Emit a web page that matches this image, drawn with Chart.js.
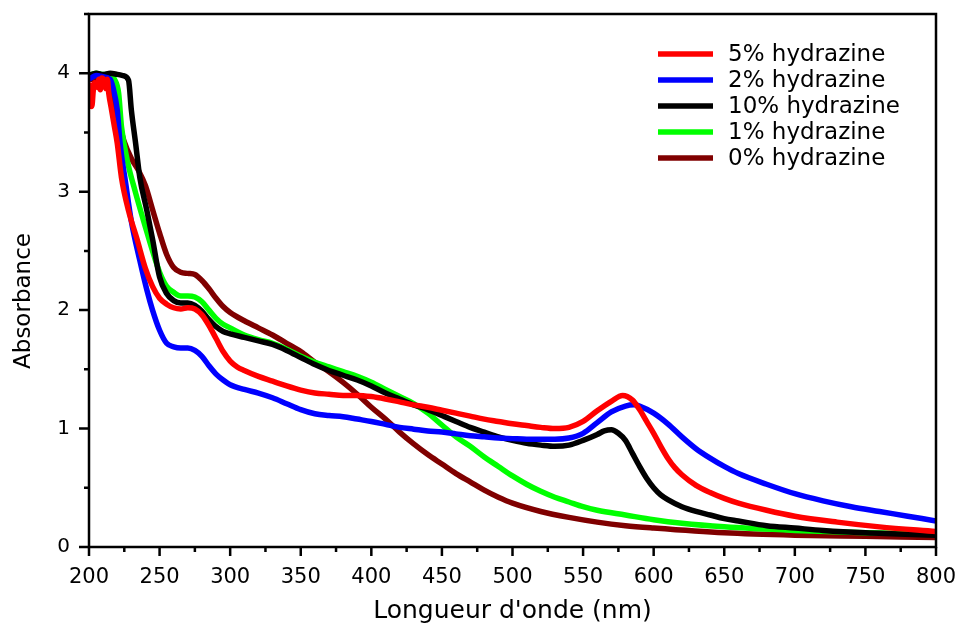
<!DOCTYPE html>
<html>
<head>
<meta charset="utf-8">
<script src="https://cdn.jsdelivr.net/npm/chart.js@4/dist/chart.umd.min.js"></script>
<style>
  html, body { margin: 0; padding: 0; background: #fff; }
  #chart { display: block; }
</style>
</head>
<body>
<canvas id="chart" width="957" height="628"></canvas>
<script>
// Axis ticks
const xTicks = [200, 250, 300, 350, 400, 450, 500, 550, 600, 650, 700, 750, 800];
const yTicks = [0, 1, 2, 3, 4];

// Legend labels
const labels = ['5% hydrazine', '2% hydrazine', '10% hydrazine', '1% hydrazine', '0% hydrazine'];

// 5% hydrazine (red)
const wl5 = [200, 201, 202, 203, 204, 206, 207, 208, 209, 211, 212, 213, 214, 216, 218, 220, 223, 228, 234, 240, 245, 250, 255, 260, 265, 270, 275, 280, 285, 290, 295, 300, 305, 310, 320, 330, 340, 350, 360, 370, 380, 390, 400, 410, 420, 430, 440, 450, 460, 470, 480, 490, 500, 510, 520, 530, 540, 550, 560, 570, 578, 585, 590, 595, 600, 605, 610, 615, 620, 630, 640, 650, 660, 680, 700, 730, 760, 800];
const abs5 = [3.75, 3.9, 3.72, 3.85, 3.92, 3.88, 3.95, 3.86, 3.96, 3.93, 3.87, 3.95, 3.83, 3.69, 3.55, 3.41, 3.12, 2.84, 2.6, 2.35, 2.2, 2.1, 2.05, 2.02, 2.01, 2.02, 2.01, 1.96, 1.87, 1.76, 1.65, 1.57, 1.52, 1.49, 1.44, 1.4, 1.36, 1.325, 1.3, 1.29, 1.28, 1.28, 1.27, 1.25, 1.225, 1.2, 1.18, 1.155, 1.13, 1.105, 1.08, 1.06, 1.04, 1.025, 1.01, 1.0, 1.01, 1.06, 1.15, 1.23, 1.28, 1.24, 1.16, 1.06, 0.96, 0.85, 0.75, 0.67, 0.61, 0.52, 0.46, 0.41, 0.37, 0.31, 0.26, 0.21, 0.17, 0.13];

// 2% hydrazine (blue)
const wl2 = [200, 205, 210, 215, 217, 220, 222, 226, 230, 236, 241, 245, 250, 255, 260, 265, 270, 275, 280, 285, 290, 295, 300, 310, 320, 330, 340, 350, 360, 370, 380, 390, 400, 410, 420, 430, 440, 450, 460, 470, 480, 490, 500, 510, 520, 530, 540, 550, 560, 570, 580, 586, 590, 600, 610, 620, 630, 640, 650, 660, 680, 700, 720, 740, 760, 780, 800];
const abs2 = [3.95, 3.98, 3.97, 3.95, 3.88, 3.69, 3.41, 3.07, 2.75, 2.42, 2.17, 2.0, 1.83, 1.72, 1.69, 1.68, 1.68, 1.66, 1.61, 1.53, 1.46, 1.41, 1.37, 1.33, 1.3, 1.26, 1.21, 1.16, 1.125, 1.11, 1.1, 1.08, 1.06, 1.035, 1.01, 0.995, 0.98, 0.97, 0.955, 0.94, 0.93, 0.92, 0.915, 0.91, 0.91, 0.91, 0.92, 0.96, 1.05, 1.14, 1.19, 1.2, 1.19, 1.13, 1.04, 0.93, 0.83, 0.75, 0.68, 0.62, 0.53, 0.45, 0.39, 0.34, 0.3, 0.26, 0.22];

// 10% hydrazine (black)
const wl10 = [200, 205, 210, 215, 220, 224, 228, 230, 233, 236, 241, 245, 250, 255, 260, 265, 270, 275, 280, 285, 290, 295, 300, 310, 320, 330, 340, 350, 360, 370, 380, 390, 400, 410, 420, 430, 440, 450, 460, 470, 480, 490, 500, 510, 520, 530, 540, 550, 560, 565, 570, 575, 580, 585, 590, 595, 600, 605, 610, 620, 630, 640, 650, 660, 680, 700, 720, 750, 800];
const abs10 = [3.98, 4.0, 3.99, 4.0, 3.99, 3.98, 3.94, 3.69, 3.41, 3.12, 2.84, 2.6, 2.28, 2.14, 2.08, 2.06, 2.06, 2.04, 1.99, 1.92, 1.86, 1.82, 1.8, 1.77, 1.74, 1.71, 1.66, 1.6, 1.54, 1.49, 1.45, 1.41, 1.36, 1.3, 1.25, 1.2, 1.16, 1.11, 1.06, 1.01, 0.97, 0.93, 0.9, 0.875, 0.86, 0.85, 0.86, 0.9, 0.95, 0.98, 0.99, 0.96, 0.9, 0.79, 0.68, 0.58, 0.5, 0.44, 0.4, 0.34, 0.3, 0.27, 0.24, 0.22, 0.18, 0.16, 0.14, 0.12, 0.1];

// 1% hydrazine (green)
const wl1 = [200, 205, 210, 215, 218, 221, 223, 227, 233, 240, 245, 250, 255, 260, 265, 270, 275, 280, 285, 290, 295, 300, 310, 320, 330, 340, 350, 360, 370, 380, 390, 400, 410, 420, 430, 440, 450, 460, 470, 480, 490, 500, 510, 520, 530, 540, 550, 560, 580, 600, 620, 650, 700, 750, 800];
const abs1 = [3.98, 4.0, 3.99, 3.99, 3.95, 3.83, 3.55, 3.27, 2.99, 2.7, 2.5, 2.32, 2.2, 2.15, 2.12, 2.12, 2.11, 2.07, 2.0, 1.93, 1.88, 1.85, 1.79, 1.75, 1.72, 1.67, 1.61, 1.56, 1.52, 1.48, 1.44, 1.39, 1.33, 1.27, 1.21, 1.13, 1.03, 0.93, 0.85, 0.76, 0.68, 0.6, 0.53, 0.47, 0.42, 0.38, 0.34, 0.31, 0.27, 0.23, 0.2, 0.17, 0.14, 0.12, 0.11];

// 0% hydrazine (maroon)
const wl0 = [200, 210, 215, 220, 225, 230, 235, 240, 245, 250, 255, 260, 265, 270, 275, 280, 285, 290, 295, 300, 310, 320, 330, 340, 350, 360, 370, 380, 390, 400, 410, 420, 430, 440, 450, 460, 470, 480, 490, 500, 520, 540, 560, 580, 600, 650, 700, 750, 800];
const abs0 = [3.95, 3.95, 3.85, 3.65, 3.42, 3.28, 3.18, 3.05, 2.85, 2.65, 2.47, 2.36, 2.32, 2.31, 2.3, 2.25, 2.18, 2.1, 2.03, 1.98, 1.91, 1.85, 1.79, 1.72, 1.65, 1.56, 1.48, 1.39, 1.29, 1.18, 1.08, 0.97, 0.87, 0.78, 0.7, 0.62, 0.55, 0.48, 0.42, 0.37, 0.3, 0.25, 0.21, 0.18, 0.16, 0.12, 0.1, 0.09, 0.08];

const colors = ['#ff0000', '#0000ff', '#000000', '#00ff00', '#800000'];
const series = [[wl5, abs5], [wl2, abs2], [wl10, abs10], [wl1, abs1], [wl0, abs0]];

const FONT = "'DejaVu Sans', 'Liberation Sans', Arial, sans-serif";

function toPoints(xs, ys) {
  return xs.map((x, i) => ({ x: x, y: ys[i] }));
}

const datasets = series.map((s, i) => ({
  label: labels[i],
  data: toPoints(s[0], s[1]),
  borderColor: colors[i],
  backgroundColor: colors[i],
  borderWidth: 5.5,
  pointRadius: 0,
  cubicInterpolationMode: 'monotone',
  fill: false
}));

// box, ticks, axis titles and legend
const decorations = {
  id: 'decorations',
  afterDraw(chart) {
    const ctx = chart.ctx;
    const area = chart.chartArea;
    const xs = chart.scales.x;
    const ys = chart.scales.y;
    ctx.save();
    ctx.strokeStyle = '#000';
    ctx.lineWidth = 2.5;
    ctx.strokeRect(area.left, area.top, area.right - area.left, area.bottom - area.top);

    ctx.beginPath();
    for (let v = 200; v <= 800; v += 25) {
      const px = xs.getPixelForValue(v);
      const len = (v % 50 === 0) ? 9 : 5;
      ctx.moveTo(px, area.bottom);
      ctx.lineTo(px, area.bottom + len);
    }
    for (let v = 0; v <= 4.5; v += 0.5) {
      const py = ys.getPixelForValue(v);
      const len = (v % 1 === 0) ? 10 : 5;
      ctx.moveTo(area.left, py);
      ctx.lineTo(area.left - len, py);
    }
    ctx.stroke();

    // axis titles
    ctx.fillStyle = '#000';
    ctx.textAlign = 'center';
    ctx.textBaseline = 'middle';
    ctx.font = '25px ' + FONT;
    ctx.fillText("Longueur d'onde (nm)", (area.left + area.right) / 2, 611);
    ctx.save();
    ctx.translate(24, 301);
    ctx.rotate(-Math.PI / 2);
    ctx.font = '23px ' + FONT;
    ctx.fillText('Absorbance', 0, 0);
    ctx.restore();

    // legend
    ctx.font = '23px ' + FONT;
    ctx.textAlign = 'left';
    chart.data.datasets.forEach((ds, i) => {
      const y = 54 + i * 26;
      ctx.strokeStyle = ds.borderColor;
      ctx.lineWidth = 5.5;
      ctx.beginPath();
      ctx.moveTo(658, y);
      ctx.lineTo(713, y);
      ctx.stroke();
      ctx.fillStyle = '#000';
      ctx.fillText(ds.label, 728, y + 1);
    });
    ctx.restore();
  }
};

new Chart(document.getElementById('chart'), {
  type: 'line',
  data: { datasets: datasets },
  options: {
    responsive: false,
    animation: false,
    devicePixelRatio: 1,
    layout: { padding: { left: 0, top: 14, right: 21, bottom: 0 } },
    plugins: { legend: { display: false }, tooltip: { enabled: false } },
    scales: {
      x: {
        type: 'linear',
        min: 200,
        max: 800,
        afterBuildTicks: s => { s.ticks = xTicks.map(v => ({ value: v })); },
        afterFit: s => { s.height = 81; s.paddingLeft = 0; s.paddingRight = 0; },
        grid: { display: false, drawTicks: false },
        border: { display: false },
        ticks: { padding: 18, color: '#000', font: { family: FONT, size: 21 }, maxRotation: 0, autoSkip: false }
      },
      y: {
        type: 'linear',
        min: 0,
        max: 4.5,
        afterBuildTicks: s => { s.ticks = yTicks.map(v => ({ value: v })); },
        afterFit: s => { s.width = 89; s.paddingTop = 0; s.paddingBottom = 0; },
        grid: { display: false, drawTicks: false },
        border: { display: false },
        ticks: { padding: 19, color: '#000', font: { family: FONT, size: 20 } }
      }
    }
  },
  plugins: [decorations]
});
</script>
</body>
</html>
